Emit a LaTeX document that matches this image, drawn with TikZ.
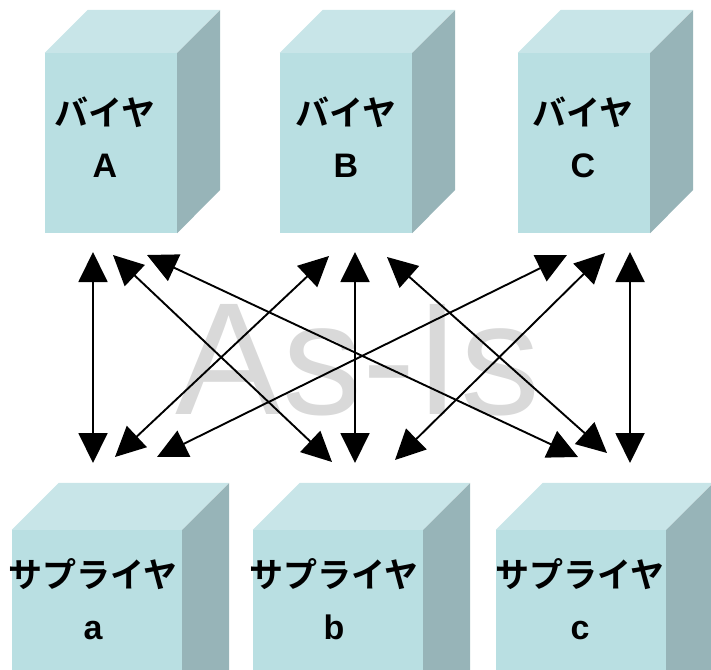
\documentclass[tikz,border=0pt]{standalone}
\usepackage{fontspec}
\setmainfont{Liberation Sans}
\newfontfamily\jpfont{Noto Sans CJK JP}[BoldFont={* Bold}]
\usetikzlibrary{arrows.meta}

\definecolor{frontface}{HTML}{B9DFE2}
\definecolor{topface}{HTML}{C8E5E8}
\definecolor{sideface}{HTML}{97B4B8}
\definecolor{wmark}{HTML}{D9D9D9}

\begin{document}
\begin{tikzpicture}[x=1pt,y=-1pt,
  front/.style={rectangle,fill=frontface,inner sep=0pt},
  topside/.style={fill=topface},
  rightside/.style={fill=sideface},
  boxlabel/.style={font=\fontsize{34}{52}\selectfont\bfseries,align=center,text=black,inner sep=0pt},
  link/.style={{Triangle[length=30pt,width=29pt]}-{Triangle[length=30pt,width=29pt]},line width=1.9pt},
  watermark/.style={font=\fontsize{160}{160}\selectfont,text=wmark,inner sep=0pt}
]
\useasboundingbox (0,0) rectangle (711,669);
\clip (0,0) rectangle (711,669);

% Buyers
\foreach \n/\cx/\lx in {A/111/105, B/346/346, C/584/583} {
  \node[front,minimum width=132pt,minimum height=180pt] (buy\n) at (\cx,143) {};
  \fill[topside] (buy\n.north west) -- ++(43,-43) -- ++(132,0) -- (buy\n.north east) -- cycle;
  \fill[rightside] (buy\n.north east) -- ++(43,-43) -- ++(0,180) -- (buy\n.south east) -- cycle;
  \node[boxlabel] (lblbuy\n) at (\lx,137) {{\jpfont バイヤ}\\\n};
}

% Suppliers
\foreach \n/\cx/\lx in {a/97/93, b/338/334, c/581/580} {
  \node[front,minimum width=170pt,minimum height=200pt] (sup\n) at (\cx,630) {};
  \fill[topside] (sup\n.north west) -- ++(47,-47) -- ++(170,0) -- (sup\n.north east) -- cycle;
  \fill[rightside] (sup\n.north east) -- ++(47,-47) -- ++(0,200) -- (sup\n.south east) -- cycle;
  \node[boxlabel] (lblsup\n) at (\lx,599) {{\jpfont サプライヤ}\\\n};
}

% Watermark
\node[watermark] (asis) at (358,360) {As-Is};

% Ports under the buyers
\coordinate (tA1) at (93,252);
\coordinate (tA2) at (113,255);
\coordinate (tA3) at (147,255);
\coordinate (tB1) at (329,256);
\coordinate (tB2) at (355,252);
\coordinate (tB3) at (387,257);
\coordinate (tC1) at (567,255);
\coordinate (tC2) at (605,253);
\coordinate (tC3) at (630,252);

% Ports above the suppliers
\coordinate (ba1) at (93,463);
\coordinate (ba2) at (115,457);
\coordinate (ba3) at (157,457);
\coordinate (bb1) at (332,462);
\coordinate (bb2) at (355,463);
\coordinate (bb3) at (395,460);
\coordinate (bc1) at (578,457);
\coordinate (bc2) at (607,453);
\coordinate (bc3) at (630,463);

% Links
\draw[link] (tA1) -- (ba1);
\draw[link] (tA2) -- (bb1);
\draw[link] (tA3) -- (bc1);
\draw[link] (tB1) -- (ba2);
\draw[link] (tB2) -- (bb2);
\draw[link] (tB3) -- (bc2);
\draw[link] (tC1) -- (ba3);
\draw[link] (tC2) -- (bb3);
\draw[link] (tC3) -- (bc3);

\end{tikzpicture}
\end{document}
